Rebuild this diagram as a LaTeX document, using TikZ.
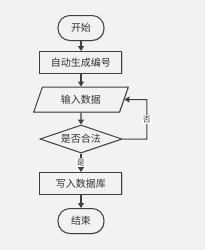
\documentclass[tikz,border=0pt]{standalone}
\usepackage{fontspec}
\newfontfamily\cjk{Noto Sans CJK SC}
\usetikzlibrary{shapes.geometric,shadows,arrows.meta}
\definecolor{bg}{HTML}{F2F2F2}
\definecolor{ln}{HTML}{404040}
\tikzset{
  base/.style={draw=ln, line width=1pt, fill=bg, font=\cjk\fontsize{10}{12}\selectfont, text=ln!80!black,
    drop shadow={shadow xshift=0.8pt, shadow yshift=-0.8pt, fill=gray!60, opacity=0.6}},
  term/.style={base, rounded corners=12pt, minimum width=46pt, minimum height=25pt, inner sep=0pt},
  proc/.style={base, minimum width=82pt, minimum height=22pt, inner sep=0pt},
  io/.style={base, trapezium, trapezium left angle=64, trapezium right angle=116, minimum width=95pt, minimum height=25pt, inner sep=0pt, trapezium stretches=true},
  dec/.style={base, diamond, aspect=2.9, minimum width=82pt, minimum height=28pt, inner sep=0pt},
  arr/.style={draw=ln, line width=1.3pt, -{Triangle[length=5pt,width=6pt]}},
  lab/.style={fill=white, inner sep=0.8pt, font=\cjk\fontsize{8}{9}\selectfont, text=ln}
}
\begin{document}
\begin{tikzpicture}[x=1pt,y=-1pt]
\fill[bg] (0,0) rectangle (205,250);
\useasboundingbox (0,0) rectangle (205,250);
\node[term] (start) at (81,28) {开始};
\node[proc] (gen) at (81,62.5) {自动生成编号};
\node[io] (input) at (81,99.5) {输入数据};
\node[dec] (check) at (81,139) {是否合法};
\node[proc] (write) at (81,183.5) {写入数据库};
\node[term] (end) at (81,221) {结束};
\coordinate (c1) at (147,139);
\coordinate (c2) at (147,99.5);
\draw[arr] (start) -- (gen);
\draw[arr] (gen) -- (input);
\draw[arr] (input) -- (check);
\draw[arr] (check) -- node[lab] (yes) {是} (write);
\draw[arr] (write) -- (end);
\draw[draw=ln, line width=1pt, -{Triangle[length=5pt,width=6pt]}] (check.east) -- (c1) -- node[lab, pos=0.5] (no) {否} (c2) -- (input.east);
\end{tikzpicture}
\end{document}
